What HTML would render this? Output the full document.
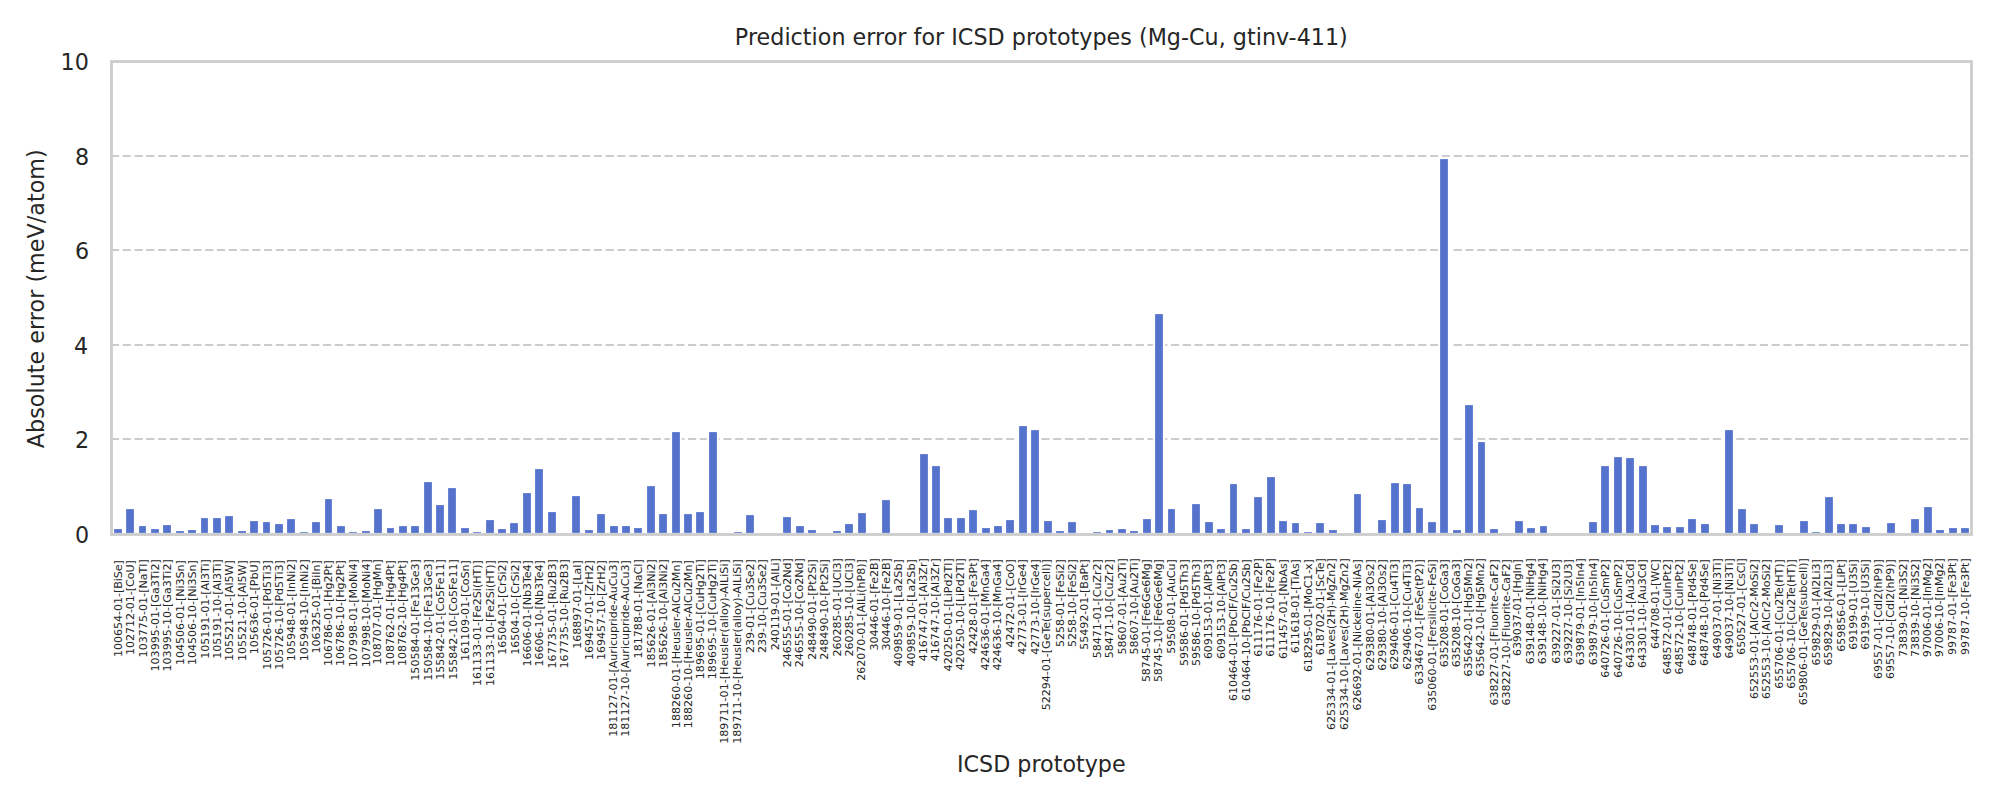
<!DOCTYPE html>
<html lang="en"><head><meta charset="utf-8"><title>Prediction error for ICSD prototypes (Mg-Cu, gtinv-411)</title>
<style>html,body{margin:0;padding:0;background:#fff;overflow:hidden}svg{display:block}text{font-family:"DejaVu Sans","Liberation Sans",sans-serif;fill:#262626}.t{font-size:22.222px}.x{font-size:11.111px;text-anchor:end}</style></head><body>
<svg width="2000" height="800" viewBox="0 0 2000 800">
<rect width="2000" height="800" fill="#fff"/>
<g stroke="#cccccc" stroke-width="2.2222" stroke-dasharray="8.222 3.556" fill="none">
<path d="M110.90 439 H1971.19"/>
<path d="M110.90 345 H1971.19"/>
<path d="M110.90 250 H1971.19"/>
<path d="M110.90 156 H1971.19"/>
</g>
<g fill="#5573cd" stroke="#fff" stroke-width="2.2222">
<rect x="113" y="528" width="10" height="6"/>
<rect x="125" y="508" width="10" height="26"/>
<rect x="138" y="525" width="9" height="9"/>
<rect x="150" y="528" width="10" height="6"/>
<rect x="162" y="524" width="10" height="10"/>
<rect x="175" y="530" width="10" height="4"/>
<rect x="187" y="529" width="10" height="5"/>
<rect x="200" y="517" width="9" height="17"/>
<rect x="212" y="517" width="10" height="17"/>
<rect x="224" y="515" width="10" height="19"/>
<rect x="237" y="530" width="10" height="4"/>
<rect x="249" y="520" width="10" height="14"/>
<rect x="262" y="521" width="9" height="13"/>
<rect x="274" y="523" width="10" height="11"/>
<rect x="286" y="518" width="10" height="16"/>
<rect x="299" y="531" width="10" height="3"/>
<rect x="311" y="521" width="10" height="13"/>
<rect x="324" y="498" width="9" height="36"/>
<rect x="336" y="525" width="10" height="9"/>
<rect x="348" y="531" width="10" height="3"/>
<rect x="361" y="530" width="10" height="4"/>
<rect x="373" y="508" width="10" height="26"/>
<rect x="386" y="527" width="9" height="7"/>
<rect x="398" y="525" width="10" height="9"/>
<rect x="410" y="525" width="10" height="9"/>
<rect x="423" y="481" width="10" height="53"/>
<rect x="435" y="504" width="10" height="30"/>
<rect x="447" y="487" width="10" height="47"/>
<rect x="460" y="527" width="10" height="7"/>
<rect x="472" y="531" width="10" height="3"/>
<rect x="485" y="519" width="10" height="15"/>
<rect x="497" y="528" width="10" height="6"/>
<rect x="509" y="522" width="10" height="12"/>
<rect x="522" y="492" width="10" height="42"/>
<rect x="534" y="468" width="10" height="66"/>
<rect x="547" y="511" width="10" height="23"/>
<rect x="559" y="533" width="10" height="1"/>
<rect x="571" y="495" width="10" height="39"/>
<rect x="584" y="529" width="10" height="5"/>
<rect x="596" y="513" width="10" height="21"/>
<rect x="609" y="525" width="10" height="9"/>
<rect x="621" y="525" width="10" height="9"/>
<rect x="633" y="527" width="10" height="7"/>
<rect x="646" y="485" width="10" height="49"/>
<rect x="658" y="513" width="10" height="21"/>
<rect x="671" y="431" width="10" height="103"/>
<rect x="683" y="513" width="10" height="21"/>
<rect x="695" y="511" width="10" height="23"/>
<rect x="708" y="431" width="10" height="103"/>
<rect x="720" y="533" width="10" height="1"/>
<rect x="733" y="531" width="10" height="3"/>
<rect x="745" y="514" width="10" height="20"/>
<rect x="757" y="533" width="10" height="1"/>
<rect x="770" y="533" width="10" height="1"/>
<rect x="782" y="516" width="10" height="18"/>
<rect x="795" y="525" width="10" height="9"/>
<rect x="807" y="529" width="10" height="5"/>
<rect x="819" y="533" width="10" height="1"/>
<rect x="832" y="530" width="10" height="4"/>
<rect x="844" y="523" width="10" height="11"/>
<rect x="857" y="512" width="10" height="22"/>
<rect x="869" y="533" width="10" height="1"/>
<rect x="881" y="499" width="10" height="35"/>
<rect x="894" y="533" width="10" height="1"/>
<rect x="906" y="533" width="10" height="1"/>
<rect x="919" y="453" width="10" height="81"/>
<rect x="931" y="465" width="10" height="69"/>
<rect x="943" y="517" width="10" height="17"/>
<rect x="956" y="517" width="10" height="17"/>
<rect x="968" y="509" width="10" height="25"/>
<rect x="981" y="527" width="10" height="7"/>
<rect x="993" y="525" width="10" height="9"/>
<rect x="1005" y="519" width="10" height="15"/>
<rect x="1018" y="425" width="10" height="109"/>
<rect x="1030" y="429" width="10" height="105"/>
<rect x="1043" y="520" width="10" height="14"/>
<rect x="1055" y="530" width="10" height="4"/>
<rect x="1067" y="521" width="10" height="13"/>
<rect x="1080" y="533" width="10" height="1"/>
<rect x="1092" y="531" width="10" height="3"/>
<rect x="1105" y="529" width="9" height="5"/>
<rect x="1117" y="528" width="10" height="6"/>
<rect x="1129" y="530" width="10" height="4"/>
<rect x="1142" y="518" width="10" height="16"/>
<rect x="1154" y="313" width="10" height="221"/>
<rect x="1167" y="508" width="9" height="26"/>
<rect x="1179" y="533" width="10" height="1"/>
<rect x="1191" y="503" width="10" height="31"/>
<rect x="1204" y="521" width="10" height="13"/>
<rect x="1216" y="528" width="10" height="6"/>
<rect x="1229" y="483" width="9" height="51"/>
<rect x="1241" y="528" width="10" height="6"/>
<rect x="1253" y="496" width="10" height="38"/>
<rect x="1266" y="476" width="10" height="58"/>
<rect x="1278" y="520" width="10" height="14"/>
<rect x="1291" y="522" width="9" height="12"/>
<rect x="1303" y="531" width="10" height="3"/>
<rect x="1315" y="522" width="10" height="12"/>
<rect x="1328" y="529" width="10" height="5"/>
<rect x="1340" y="533" width="10" height="1"/>
<rect x="1353" y="493" width="9" height="41"/>
<rect x="1365" y="533" width="10" height="1"/>
<rect x="1377" y="519" width="10" height="15"/>
<rect x="1390" y="482" width="10" height="52"/>
<rect x="1402" y="483" width="10" height="51"/>
<rect x="1415" y="507" width="9" height="27"/>
<rect x="1427" y="521" width="10" height="13"/>
<rect x="1439" y="158" width="10" height="376"/>
<rect x="1452" y="529" width="10" height="5"/>
<rect x="1464" y="404" width="10" height="130"/>
<rect x="1477" y="441" width="9" height="93"/>
<rect x="1489" y="528" width="10" height="6"/>
<rect x="1501" y="533" width="10" height="1"/>
<rect x="1514" y="520" width="10" height="14"/>
<rect x="1526" y="527" width="10" height="7"/>
<rect x="1539" y="525" width="9" height="9"/>
<rect x="1551" y="533" width="10" height="1"/>
<rect x="1563" y="533" width="10" height="1"/>
<rect x="1576" y="533" width="10" height="1"/>
<rect x="1588" y="521" width="10" height="13"/>
<rect x="1600" y="465" width="10" height="69"/>
<rect x="1613" y="456" width="10" height="78"/>
<rect x="1625" y="457" width="10" height="77"/>
<rect x="1638" y="465" width="10" height="69"/>
<rect x="1650" y="524" width="10" height="10"/>
<rect x="1662" y="526" width="10" height="8"/>
<rect x="1675" y="526" width="10" height="8"/>
<rect x="1687" y="518" width="10" height="16"/>
<rect x="1700" y="523" width="10" height="11"/>
<rect x="1712" y="533" width="10" height="1"/>
<rect x="1724" y="429" width="10" height="105"/>
<rect x="1737" y="508" width="10" height="26"/>
<rect x="1749" y="523" width="10" height="11"/>
<rect x="1762" y="533" width="10" height="1"/>
<rect x="1774" y="524" width="10" height="10"/>
<rect x="1786" y="533" width="10" height="1"/>
<rect x="1799" y="520" width="10" height="14"/>
<rect x="1811" y="531" width="10" height="3"/>
<rect x="1824" y="496" width="10" height="38"/>
<rect x="1836" y="523" width="10" height="11"/>
<rect x="1848" y="523" width="10" height="11"/>
<rect x="1861" y="526" width="10" height="8"/>
<rect x="1873" y="533" width="10" height="1"/>
<rect x="1886" y="522" width="10" height="12"/>
<rect x="1898" y="533" width="10" height="1"/>
<rect x="1910" y="518" width="10" height="16"/>
<rect x="1923" y="506" width="10" height="28"/>
<rect x="1935" y="529" width="10" height="5"/>
<rect x="1948" y="527" width="10" height="7"/>
<rect x="1960" y="527" width="10" height="7"/>
</g>
<rect x="111.5" y="61.5" width="1860.0" height="473.0" fill="none" stroke="#cccccc" stroke-width="2.7778"/>
<g class="t" text-anchor="end">
<text x="89.2" y="543.00">0</text>
<text x="89.2" y="447.95">2</text>
<text x="88.2" y="354.10">4</text>
<text x="89.2" y="258.70">6</text>
<text x="89.2" y="164.95">8</text>
<text x="88.8" y="70.25">10</text>
</g>
<text class="t" text-anchor="middle" letter-spacing="0.025" x="1041.35" y="44.8">Prediction error for ICSD prototypes (Mg-Cu, gtinv-411)</text>
<text class="t" text-anchor="middle" x="1041.35" y="771.8">ICSD prototype</text>
<text class="t" text-anchor="middle" letter-spacing="0.036" transform="translate(44.0 298.75) rotate(-90)">Absolute error (meV/atom)</text>
<g class="x">
<text transform="translate(122.45 560.20) rotate(-90)" letter-spacing="-0.067">100654-01-[BiSe]</text>
<text transform="translate(134.45 560.20) rotate(-90)" letter-spacing="-0.071">102712-01-[CoU]</text>
<text transform="translate(147.45 559.20) rotate(-90)" letter-spacing="0.000">103775-01-[NaTl]</text>
<text transform="translate(159.45 559.20) rotate(-90)" letter-spacing="0.000">103995-01-[Ga3Ti2]</text>
<text transform="translate(171.45 559.20) rotate(-90)" letter-spacing="0.000">103995-10-[Ga3Ti2]</text>
<text transform="translate(184.45 560.20) rotate(-90)" letter-spacing="-0.062">104506-01-[Ni3Sn]</text>
<text transform="translate(196.45 560.20) rotate(-90)" letter-spacing="-0.062">104506-10-[Ni3Sn]</text>
<text transform="translate(209.45 559.20) rotate(-90)" letter-spacing="-0.062">105191-01-[Al3Ti]</text>
<text transform="translate(221.45 559.20) rotate(-90)" letter-spacing="-0.062">105191-10-[Al3Ti]</text>
<text transform="translate(233.45 560.20) rotate(-90)" letter-spacing="-0.067">105521-01-[Al5W]</text>
<text transform="translate(246.45 560.20) rotate(-90)" letter-spacing="-0.067">105521-10-[Al5W]</text>
<text transform="translate(258.45 560.20) rotate(-90)" letter-spacing="-0.071">105636-01-[PbU]</text>
<text transform="translate(271.45 560.20) rotate(-90)" letter-spacing="-0.059">105726-01-[Pd5Ti3]</text>
<text transform="translate(283.45 560.20) rotate(-90)" letter-spacing="-0.059">105726-10-[Pd5Ti3]</text>
<text transform="translate(295.45 559.20) rotate(-90)" letter-spacing="0.000">105948-01-[InNi2]</text>
<text transform="translate(308.45 559.20) rotate(-90)" letter-spacing="0.000">105948-10-[InNi2]</text>
<text transform="translate(320.45 560.20) rotate(-90)" letter-spacing="-0.067">106325-01-[BiIn]</text>
<text transform="translate(332.45 560.20) rotate(-90)" letter-spacing="-0.062">106786-01-[Hg2Pt]</text>
<text transform="translate(344.45 560.20) rotate(-90)" letter-spacing="-0.062">106786-10-[Hg2Pt]</text>
<text transform="translate(357.45 559.20) rotate(-90)" letter-spacing="0.000">107998-01-[MoNi4]</text>
<text transform="translate(370.45 559.20) rotate(-90)" letter-spacing="0.000">107998-10-[MoNi4]</text>
<text transform="translate(381.45 559.20) rotate(-90)" letter-spacing="0.000">108707-01-[HgMn]</text>
<text transform="translate(394.45 560.20) rotate(-90)" letter-spacing="-0.062">108762-01-[Hg4Pt]</text>
<text transform="translate(406.45 560.20) rotate(-90)" letter-spacing="-0.062">108762-10-[Hg4Pt]</text>
<text transform="translate(419.45 559.20) rotate(-90)" letter-spacing="-0.056">150584-01-[Fe13Ge3]</text>
<text transform="translate(432.45 559.20) rotate(-90)" letter-spacing="-0.056">150584-10-[Fe13Ge3]</text>
<text transform="translate(444.45 559.20) rotate(-90)" letter-spacing="-0.056">155842-01-[Co5Fe11]</text>
<text transform="translate(457.45 559.20) rotate(-90)" letter-spacing="-0.056">155842-10-[Co5Fe11]</text>
<text transform="translate(469.45 560.20) rotate(-90)" letter-spacing="-0.067">161109-01-[CoSn]</text>
<text transform="translate(481.45 560.20) rotate(-90)" letter-spacing="-0.050">161133-01-[Fe2Si(HT)]</text>
<text transform="translate(494.45 560.20) rotate(-90)" letter-spacing="-0.050">161133-10-[Fe2Si(HT)]</text>
<text transform="translate(506.45 560.20) rotate(-90)" letter-spacing="-0.067">16504-01-[CrSi2]</text>
<text transform="translate(519.45 560.20) rotate(-90)" letter-spacing="-0.067">16504-10-[CrSi2]</text>
<text transform="translate(531.45 560.20) rotate(-90)" letter-spacing="-0.062">16606-01-[Nb3Te4]</text>
<text transform="translate(543.45 560.20) rotate(-90)" letter-spacing="-0.062">16606-10-[Nb3Te4]</text>
<text transform="translate(556.45 559.20) rotate(-90)" letter-spacing="0.000">167735-01-[Ru2B3]</text>
<text transform="translate(568.45 559.20) rotate(-90)" letter-spacing="0.000">167735-10-[Ru2B3]</text>
<text transform="translate(581.45 560.20) rotate(-90)" letter-spacing="-0.071">168897-01-[LaI]</text>
<text transform="translate(593.45 560.20) rotate(-90)" letter-spacing="-0.067">169457-01-[ZrH2]</text>
<text transform="translate(605.45 560.20) rotate(-90)" letter-spacing="-0.067">169457-10-[ZrH2]</text>
<text transform="translate(617.45 560.20) rotate(-90)" letter-spacing="-0.036">181127-01-[Auricupride-AuCu3]</text>
<text transform="translate(629.45 560.20) rotate(-90)" letter-spacing="-0.036">181127-10-[Auricupride-AuCu3]</text>
<text transform="translate(642.45 559.20) rotate(-90)" letter-spacing="0.000">181788-01-[NaCl]</text>
<text transform="translate(655.45 559.20) rotate(-90)" letter-spacing="-0.059">185626-01-[Al3Ni2]</text>
<text transform="translate(667.45 559.20) rotate(-90)" letter-spacing="-0.059">185626-10-[Al3Ni2]</text>
<text transform="translate(680.45 560.20) rotate(-90)" letter-spacing="0.000">188260-01-[Heusler-AlCu2Mn]</text>
<text transform="translate(692.45 560.20) rotate(-90)" letter-spacing="0.000">188260-10-[Heusler-AlCu2Mn]</text>
<text transform="translate(704.45 559.20) rotate(-90)" letter-spacing="0.000">189695-01-[CuHg2Ti]</text>
<text transform="translate(716.45 559.20) rotate(-90)" letter-spacing="0.000">189695-10-[CuHg2Ti]</text>
<text transform="translate(728.45 559.20) rotate(-90)" letter-spacing="0.000">189711-01-[Heusler(alloy)-AlLiSi]</text>
<text transform="translate(741.45 559.20) rotate(-90)" letter-spacing="0.000">189711-10-[Heusler(alloy)-AlLiSi]</text>
<text transform="translate(754.45 559.20) rotate(-90)" letter-spacing="-0.071">239-01-[Cu3Se2]</text>
<text transform="translate(766.45 559.20) rotate(-90)" letter-spacing="-0.071">239-10-[Cu3Se2]</text>
<text transform="translate(779.45 558.20) rotate(-90)" letter-spacing="-0.067">240119-01-[AlLi]</text>
<text transform="translate(791.45 558.20) rotate(-90)" letter-spacing="-0.062">246555-01-[Co2Nd]</text>
<text transform="translate(803.45 558.20) rotate(-90)" letter-spacing="-0.062">246555-10-[Co2Nd]</text>
<text transform="translate(816.45 559.20) rotate(-90)" letter-spacing="-0.062">248490-01-[Pt2Si]</text>
<text transform="translate(828.45 559.20) rotate(-90)" letter-spacing="-0.062">248490-10-[Pt2Si]</text>
<text transform="translate(841.45 558.20) rotate(-90)" letter-spacing="-0.067">260285-01-[UCl3]</text>
<text transform="translate(853.45 558.20) rotate(-90)" letter-spacing="-0.067">260285-10-[UCl3]</text>
<text transform="translate(865.45 559.20) rotate(-90)" letter-spacing="-0.050">262070-01-[AlLi(hP8)]</text>
<text transform="translate(878.45 558.20) rotate(-90)" letter-spacing="-0.071">30446-01-[Fe2B]</text>
<text transform="translate(890.45 558.20) rotate(-90)" letter-spacing="-0.071">30446-10-[Fe2B]</text>
<text transform="translate(902.45 559.20) rotate(-90)" letter-spacing="0.000">409859-01-[La2Sb]</text>
<text transform="translate(915.45 559.20) rotate(-90)" letter-spacing="0.000">409859-10-[La2Sb]</text>
<text transform="translate(927.45 558.20) rotate(-90)" letter-spacing="0.000">416747-01-[Al3Zr]</text>
<text transform="translate(939.45 558.20) rotate(-90)" letter-spacing="0.000">416747-10-[Al3Zr]</text>
<text transform="translate(952.45 558.20) rotate(-90)" letter-spacing="0.000">420250-01-[LiPd2Tl]</text>
<text transform="translate(964.45 558.20) rotate(-90)" letter-spacing="-0.056">420250-10-[LiPd2Tl]</text>
<text transform="translate(977.45 558.20) rotate(-90)" letter-spacing="-0.067">42428-01-[Fe3Pt]</text>
<text transform="translate(989.45 559.20) rotate(-90)" letter-spacing="-0.062">424636-01-[MnGa4]</text>
<text transform="translate(1001.45 559.20) rotate(-90)" letter-spacing="-0.062">424636-10-[MnGa4]</text>
<text transform="translate(1014.45 559.20) rotate(-90)" letter-spacing="-0.077">42472-01-[CoO]</text>
<text transform="translate(1026.45 559.20) rotate(-90)" letter-spacing="-0.067">42773-01-[IrGe4]</text>
<text transform="translate(1039.45 559.20) rotate(-90)" letter-spacing="-0.067">42773-10-[IrGe4]</text>
<text transform="translate(1050.45 559.20) rotate(-90)" letter-spacing="-0.040">52294-01-[GeTe(supercell)]</text>
<text transform="translate(1064.45 559.20) rotate(-90)" letter-spacing="-0.071">5258-01-[FeSi2]</text>
<text transform="translate(1076.45 559.20) rotate(-90)" letter-spacing="-0.071">5258-10-[FeSi2]</text>
<text transform="translate(1088.45 559.20) rotate(-90)" letter-spacing="-0.071">55492-01-[BaPt]</text>
<text transform="translate(1101.45 559.20) rotate(-90)" letter-spacing="-0.067">58471-01-[CuZr2]</text>
<text transform="translate(1113.45 559.20) rotate(-90)" letter-spacing="-0.067">58471-10-[CuZr2]</text>
<text transform="translate(1126.45 558.20) rotate(-90)" letter-spacing="-0.067">58607-01-[Au2Ti]</text>
<text transform="translate(1138.45 558.20) rotate(-90)" letter-spacing="-0.067">58607-10-[Au2Ti]</text>
<text transform="translate(1150.45 559.20) rotate(-90)" letter-spacing="-0.111">58745-01-[Fe6Ge6Mg]</text>
<text transform="translate(1162.45 559.20) rotate(-90)" letter-spacing="-0.111">58745-10-[Fe6Ge6Mg]</text>
<text transform="translate(1175.45 559.20) rotate(-90)" letter-spacing="-0.071">59508-01-[AuCu]</text>
<text transform="translate(1188.45 559.20) rotate(-90)" letter-spacing="-0.062">59586-01-[Pd5Th3]</text>
<text transform="translate(1200.45 559.20) rotate(-90)" letter-spacing="-0.062">59586-10-[Pd5Th3]</text>
<text transform="translate(1212.45 559.20) rotate(-90)" letter-spacing="-0.125">609153-01-[AlPt3]</text>
<text transform="translate(1225.45 559.20) rotate(-90)" letter-spacing="-0.125">609153-10-[AlPt3]</text>
<text transform="translate(1237.45 559.20) rotate(-90)" letter-spacing="-0.091">610464-01-[PbClF/Cu2Sb]</text>
<text transform="translate(1250.45 559.20) rotate(-90)" letter-spacing="-0.091">610464-10-[PbClF/Cu2Sb]</text>
<text transform="translate(1262.45 558.20) rotate(-90)" letter-spacing="-0.067">611176-01-[Fe2P]</text>
<text transform="translate(1274.45 558.20) rotate(-90)" letter-spacing="-0.067">611176-10-[Fe2P]</text>
<text transform="translate(1287.45 559.20) rotate(-90)" letter-spacing="-0.133">611457-01-[NbAs]</text>
<text transform="translate(1299.45 559.20) rotate(-90)" letter-spacing="-0.133">611618-01-[TiAs]</text>
<text transform="translate(1312.45 559.20) rotate(-90)" letter-spacing="-0.118">618295-01-[MoC1-x]</text>
<text transform="translate(1324.45 558.20) rotate(-90)" letter-spacing="-0.067">618702-01-[ScTe]</text>
<text transform="translate(1335.45 558.20) rotate(-90)" letter-spacing="0.000">625334-01-[Laves(2H)-MgZn2]</text>
<text transform="translate(1348.45 558.20) rotate(-90)" letter-spacing="0.000">625334-10-[Laves(2H)-MgZn2]</text>
<text transform="translate(1361.45 559.20) rotate(-90)" letter-spacing="-0.040">626692-01-[Nickeline-NiAs]</text>
<text transform="translate(1374.45 559.20) rotate(-90)" letter-spacing="-0.059">629380-01-[Al3Os2]</text>
<text transform="translate(1386.45 559.20) rotate(-90)" letter-spacing="-0.059">629380-10-[Al3Os2]</text>
<text transform="translate(1398.45 559.20) rotate(-90)" letter-spacing="-0.059">629406-01-[Cu4Ti3]</text>
<text transform="translate(1411.45 559.20) rotate(-90)" letter-spacing="-0.059">629406-10-[Cu4Ti3]</text>
<text transform="translate(1423.45 559.20) rotate(-90)" letter-spacing="-0.050">633467-01-[FeSe(tP2)]</text>
<text transform="translate(1436.45 559.20) rotate(-90)" letter-spacing="-0.037">635060-01-[Fersilicite-FeSi]</text>
<text transform="translate(1448.45 559.20) rotate(-90)" letter-spacing="-0.125">635208-01-[CoGa3]</text>
<text transform="translate(1460.45 559.20) rotate(-90)" letter-spacing="-0.125">635208-10-[CoGa3]</text>
<text transform="translate(1472.45 558.20) rotate(-90)" letter-spacing="-0.059">635642-01-[Hg5Mn2]</text>
<text transform="translate(1484.45 558.20) rotate(-90)" letter-spacing="-0.059">635642-10-[Hg5Mn2]</text>
<text transform="translate(1498.45 559.20) rotate(-90)" letter-spacing="-0.042">638227-01-[Fluorite-CaF2]</text>
<text transform="translate(1510.45 559.20) rotate(-90)" letter-spacing="-0.042">638227-10-[Fluorite-CaF2]</text>
<text transform="translate(1521.45 559.20) rotate(-90)" letter-spacing="-0.133">639037-01-[HgIn]</text>
<text transform="translate(1534.45 558.20) rotate(-90)" letter-spacing="-0.062">639148-01-[NiHg4]</text>
<text transform="translate(1546.45 558.20) rotate(-90)" letter-spacing="-0.062">639148-10-[NiHg4]</text>
<text transform="translate(1560.45 559.20) rotate(-90)" letter-spacing="-0.062">639227-01-[Si2U3]</text>
<text transform="translate(1572.45 559.20) rotate(-90)" letter-spacing="-0.062">639227-10-[Si2U3]</text>
<text transform="translate(1584.45 558.20) rotate(-90)" letter-spacing="-0.059">639879-01-[In5In4]</text>
<text transform="translate(1597.45 558.20) rotate(-90)" letter-spacing="-0.059">639879-10-[In5In4]</text>
<text transform="translate(1609.45 559.20) rotate(-90)" letter-spacing="-0.059">640726-01-[CuSmP2]</text>
<text transform="translate(1622.45 559.20) rotate(-90)" letter-spacing="-0.059">640726-10-[CuSmP2]</text>
<text transform="translate(1634.45 559.20) rotate(-90)" letter-spacing="-0.062">643301-01-[Au3Cd]</text>
<text transform="translate(1646.45 559.20) rotate(-90)" letter-spacing="-0.062">643301-10-[Au3Cd]</text>
<text transform="translate(1659.45 559.20) rotate(-90)" letter-spacing="-0.154">644708-01-[WC]</text>
<text transform="translate(1671.45 559.20) rotate(-90)" letter-spacing="-0.056">648572-01-[CuInPt2]</text>
<text transform="translate(1683.45 559.20) rotate(-90)" letter-spacing="-0.056">648572-10-[CuInPt2]</text>
<text transform="translate(1696.45 559.20) rotate(-90)" letter-spacing="-0.062">648748-01-[Pd4Se]</text>
<text transform="translate(1708.45 559.20) rotate(-90)" letter-spacing="-0.062">648748-10-[Pd4Se]</text>
<text transform="translate(1721.45 558.20) rotate(-90)" letter-spacing="-0.062">649037-01-[Ni3Ti]</text>
<text transform="translate(1733.45 558.20) rotate(-90)" letter-spacing="-0.062">649037-10-[Ni3Ti]</text>
<text transform="translate(1745.45 558.20) rotate(-90)" letter-spacing="-0.067">650527-01-[CsCl]</text>
<text transform="translate(1758.45 559.20) rotate(-90)" letter-spacing="-0.045">652553-01-[AlCr2-MoSi2]</text>
<text transform="translate(1770.45 559.20) rotate(-90)" letter-spacing="-0.045">652553-10-[AlCr2-MoSi2]</text>
<text transform="translate(1783.45 559.20) rotate(-90)" letter-spacing="-0.050">655706-01-[Cu2Te(HT)]</text>
<text transform="translate(1795.45 559.20) rotate(-90)" letter-spacing="-0.050">655706-10-[Cu2Te(HT)]</text>
<text transform="translate(1807.45 558.20) rotate(-90)" letter-spacing="-0.042">659806-01-[GeTe(subcell)]</text>
<text transform="translate(1820.45 559.20) rotate(-90)" letter-spacing="-0.059">659829-01-[Al2Li3]</text>
<text transform="translate(1832.45 559.20) rotate(-90)" letter-spacing="-0.059">659829-10-[Al2Li3]</text>
<text transform="translate(1845.45 559.20) rotate(-90)" letter-spacing="-0.067">659856-01-[LiPt]</text>
<text transform="translate(1857.45 559.20) rotate(-90)" letter-spacing="-0.071">69199-01-[U3Si]</text>
<text transform="translate(1869.45 559.20) rotate(-90)" letter-spacing="-0.071">69199-10-[U3Si]</text>
<text transform="translate(1882.45 559.20) rotate(-90)" letter-spacing="-0.053">69557-01-[CdI2(hP9)]</text>
<text transform="translate(1894.45 559.20) rotate(-90)" letter-spacing="-0.053">69557-10-[CdI2(hP9)]</text>
<text transform="translate(1907.45 559.20) rotate(-90)" letter-spacing="-0.067">73839-01-[Ni3S2]</text>
<text transform="translate(1919.45 559.20) rotate(-90)" letter-spacing="-0.067">73839-10-[Ni3S2]</text>
<text transform="translate(1931.45 558.20) rotate(-90)" letter-spacing="-0.067">97006-01-[InMg2]</text>
<text transform="translate(1943.45 558.20) rotate(-90)" letter-spacing="-0.067">97006-10-[InMg2]</text>
<text transform="translate(1956.45 558.20) rotate(-90)" letter-spacing="0.000">99787-01-[Fe3Pt]</text>
<text transform="translate(1969.45 558.20) rotate(-90)" letter-spacing="0.000">99787-10-[Fe3Pt]</text>
</g>
</svg></body></html>
